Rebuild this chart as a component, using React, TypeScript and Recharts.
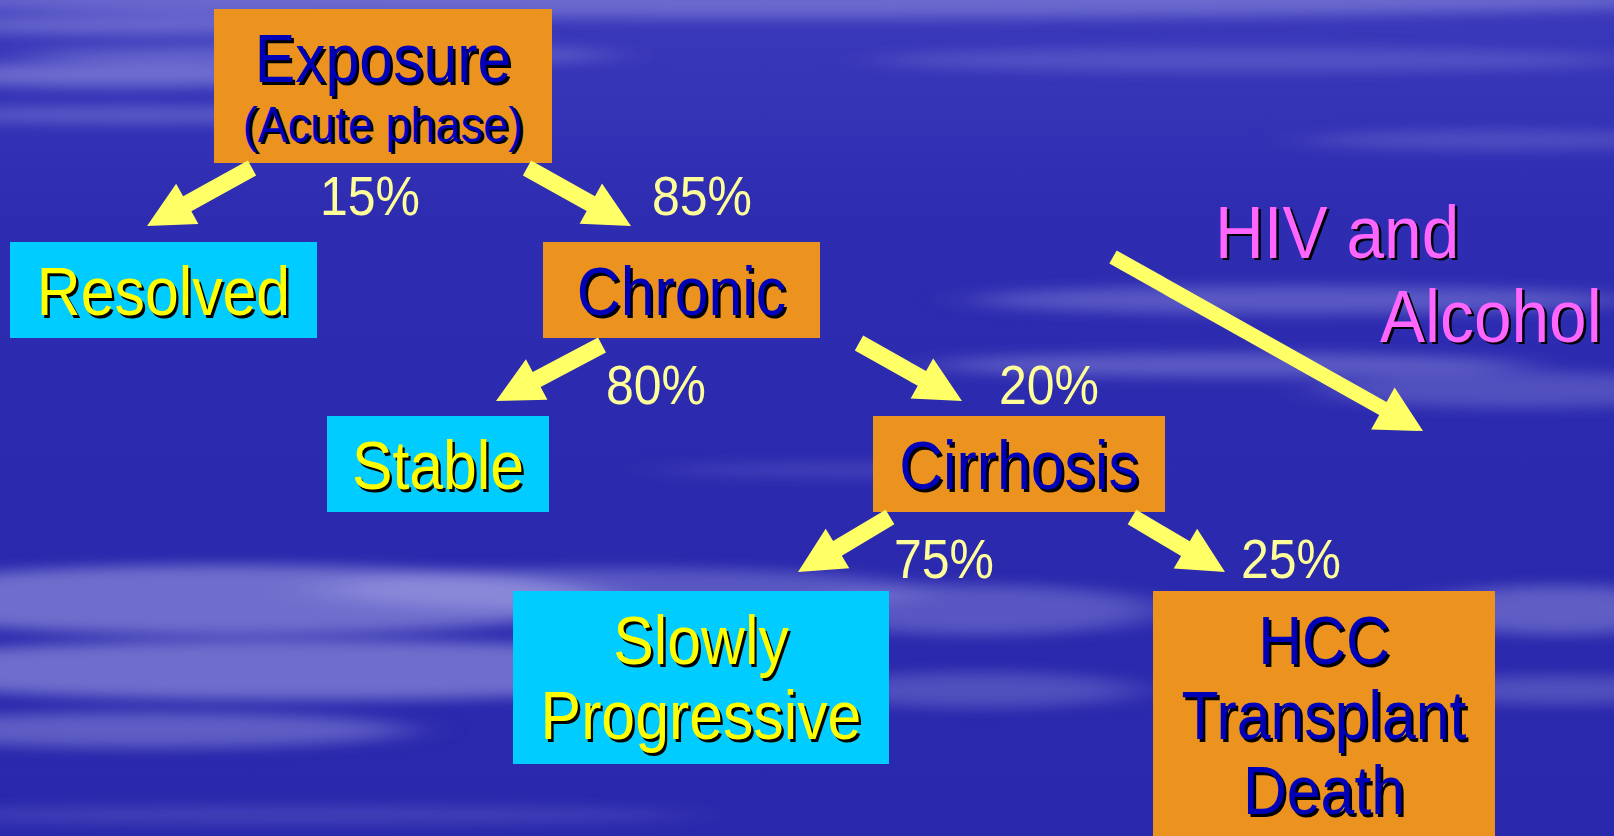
import React from 'react';
import { ScatterChart, XAxis, YAxis, Scatter, ReferenceArea, ReferenceLine } from 'recharts';

const W = 1614;
const H = 836;

// ---- content ----
const stageLines: string[][] = [
  ['Exposure'],
  ['Resolved'],
  ['Chronic'],
  ['Stable'],
  ['Cirrhosis'],
  ['Slowly', 'Progressive'],
  ['HCC', 'Transplant', 'Death'],
];
const stageSubtitles: (string | null)[] = ['(Acute phase)', null, null, null, null, null, null];
const stageOutcome: boolean[] = [false, true, false, true, false, true, false];
const transitionPercents = ['15%', '85%', '80%', '20%', '75%', '25%'];
const transitionFrom = [0, 0, 2, 2, 4, 4];
const transitionTo = [1, 2, 3, 4, 5, 6];
const cofactorLines = ['HIV and', 'Alcohol'];

// ---- layout (slide units) ----
const stageBoxes: number[][] = [
  [214, 552, 9, 163],
  [10, 317, 242, 338],
  [543, 820, 242, 338],
  [327, 549, 416, 512],
  [873, 1165, 416, 512],
  [513, 889, 591, 764],
  [1153, 1495, 591, 836],
];
const arrowSegments: number[][] = [
  [252, 168, 147, 226],
  [527, 168, 631, 226],
  [602, 345, 496, 401],
  [859, 343, 962, 401],
  [890, 517, 798, 572],
  [1132, 517, 1225, 572],
];
const percentAnchors: number[][] = [
  [320, 215],
  [652, 215],
  [606, 404],
  [999, 404],
  [894, 578],
  [1241, 578],
];
const cofactorAnchors: number[][] = [
  [1215, 258],
  [1380, 342],
];
const cofactorArrow = [1113, 257, 1423, 431];

const clouds: number[][] = [
  [800, 0, 900, 18, 0.35],
  [150, 25, 220, 10, 0.35],
  [320, 55, 300, 10, 0.3],
  [120, 75, 200, 12, 0.4],
  [140, 115, 220, 8, 0.3],
  [1250, 60, 380, 12, 0.2],
  [1500, 140, 200, 10, 0.2],
  [1300, 300, 330, 14, 0.3],
  [1230, 365, 300, 12, 0.32],
  [1520, 390, 200, 18, 0.25],
  [900, 470, 250, 8, 0.15],
  [230, 600, 380, 35, 0.45],
  [300, 670, 450, 30, 0.45],
  [150, 730, 260, 18, 0.35],
  [620, 590, 300, 22, 0.3],
  [980, 610, 180, 25, 0.3],
  [980, 690, 160, 18, 0.25],
  [1560, 610, 140, 25, 0.35],
  [1560, 690, 140, 15, 0.25],
  [300, 815, 400, 10, 0.15],
];

const FONT = '"Liberation Sans", Arial, Helvetica, sans-serif';
const NAVY = '#0000b8';
const YELLOW = '#ffff00';
const ORANGE = '#ec921e';
const CYAN = '#00ccff';
const ARROW = '#ffff66';
const PCT = '#ffff99';
const MAGENTA = '#ff66ff';

const ShadowText = ({ x, y, text, size, color, anchor = 'middle', stretch = 1.1 }: any) => (
  <g transform={`translate(${x},${y}) scale(0.98,${stretch})`}>
    <text x={2.5} y={2.3} fontSize={size} fontFamily={FONT} fill="#000" textAnchor={anchor}>
      {text}
    </text>
    <text x={0} y={0} fontSize={size} fontFamily={FONT} fill={color} textAnchor={anchor}>
      {text}
    </text>
  </g>
);

const makeStageShape = (i: number) => (props: any) => {
  const { x, y, width, height } = props;
  const outcome = stageOutcome[i];
  const color = outcome ? YELLOW : NAVY;
  const cx = x + width / 2;
  const base = y + 73;
  const lines = stageLines[i];
  return (
    <g>
      <rect x={x} y={y} width={width} height={height} fill={outcome ? CYAN : ORANGE} />
      {lines.map((t, k) => (
        <ShadowText key={k} x={cx} y={base + k * 75} text={t} size={62} color={color} />
      ))}
      {stageSubtitles[i] ? (
        <ShadowText x={cx} y={base + 60} text={stageSubtitles[i]} size={46} color={color} stretch={1.08} />
      ) : null}
    </g>
  );
};

const arrowShape = (shaft: number, headW: number, headL: number) => (props: any) => {
  const { x1, y1, x2, y2 } = props;
  const dx = x2 - x1;
  const dy = y2 - y1;
  const len = Math.hypot(dx, dy) || 1;
  const ux = dx / len;
  const uy = dy / len;
  const nx = -uy;
  const ny = ux;
  const bx = x2 - ux * headL;
  const by = y2 - uy * headL;
  const s = shaft / 2;
  const h = headW / 2;
  const pts = [
    [x1 + nx * s, y1 + ny * s],
    [bx + nx * s, by + ny * s],
    [bx + nx * h, by + ny * h],
    [x2, y2],
    [bx - nx * h, by - ny * h],
    [bx - nx * s, by - ny * s],
    [x1 - nx * s, y1 - ny * s],
  ];
  return <polygon points={pts.map((p) => p.join(',')).join(' ')} fill={ARROW} />;
};

const backgroundShape = (props: any) => {
  const { x, y, width, height } = props;
  const sx = width / W;
  const sy = height / H;
  return (
    <g>
      <defs>
        <linearGradient id="skyGrad" x1="0" y1="0" x2="0" y2="1">
          <stop offset="0" stopColor="#3c3abb" />
          <stop offset="0.25" stopColor="#2e2cb1" />
          <stop offset="0.6" stopColor="#2b29ad" />
          <stop offset="1" stopColor="#2a28ac" />
        </linearGradient>
        <filter id="cloudBlur" x="-50%" y="-200%" width="200%" height="500%">
          <feGaussianBlur stdDeviation="30 7" />
        </filter>
      </defs>
      <rect x={x} y={y} width={width} height={height} fill="url(#skyGrad)" />
      <g filter="url(#cloudBlur)">
        {clouds.map((c, k) => (
          <ellipse
            key={k}
            cx={x + c[0] * sx}
            cy={y + c[1] * sy}
            rx={c[2] * sx}
            ry={c[3] * sy}
            fill="#c4c4f4"
            opacity={c[4]}
          />
        ))}
      </g>
    </g>
  );
};

const percentData = transitionPercents.map((label, i) => ({
  x: percentAnchors[i][0],
  y: percentAnchors[i][1],
  label,
  from: transitionFrom[i],
  to: transitionTo[i],
}));
const cofactorData = cofactorLines.map((label, i) => ({
  x: cofactorAnchors[i][0],
  y: cofactorAnchors[i][1],
  label,
}));

const PercentShape = (props: any) => {
  const { cx, cy, payload } = props;
  return (
    <g transform={`translate(${cx},${cy}) scale(1,1.1)`}>
      <text x={0} y={0} fontSize={50} fontFamily={FONT} fill={PCT} textAnchor="start">
        {payload.label}
      </text>
    </g>
  );
};

const CofactorShape = (props: any) => {
  const { cx, cy, payload } = props;
  return (
    <ShadowText x={cx} y={cy} text={payload.label} size={69} color={MAGENTA} anchor="start" stretch={1.07} />
  );
};

export default function App() {
  return (
    <div style={{ position: 'absolute', left: 0, top: 0, width: W, height: H, overflow: 'hidden' }}>
      <ScatterChart width={W} height={H} margin={{ top: 0, right: 0, bottom: 0, left: 0 }}>
        <XAxis type="number" dataKey="x" domain={[0, W]} hide allowDataOverflow />
        <YAxis type="number" dataKey="y" domain={[0, H]} reversed hide allowDataOverflow width={0} />
        <ReferenceArea x1={0} x2={W} y1={0} y2={H} shape={backgroundShape} ifOverflow="visible" />
        {stageBoxes.map((b, i) => (
          <ReferenceArea
            key={'s' + i}
            x1={b[0]}
            x2={b[1]}
            y1={b[2]}
            y2={b[3]}
            shape={makeStageShape(i)}
            ifOverflow="visible"
          />
        ))}
        {arrowSegments.map((a, i) => (
          <ReferenceLine
            key={'a' + i}
            segment={[
              { x: a[0], y: a[1] },
              { x: a[2], y: a[3] },
            ]}
            shape={arrowShape(17, 46, 46)}
            ifOverflow="visible"
          />
        ))}
        <ReferenceLine
          segment={[
            { x: cofactorArrow[0], y: cofactorArrow[1] },
            { x: cofactorArrow[2], y: cofactorArrow[3] },
          ]}
          shape={arrowShape(15, 48, 46)}
          ifOverflow="visible"
        />
        <Scatter data={percentData} shape={PercentShape} isAnimationActive={false} />
        <Scatter data={cofactorData} shape={CofactorShape} isAnimationActive={false} />
      </ScatterChart>
    </div>
  );
}
